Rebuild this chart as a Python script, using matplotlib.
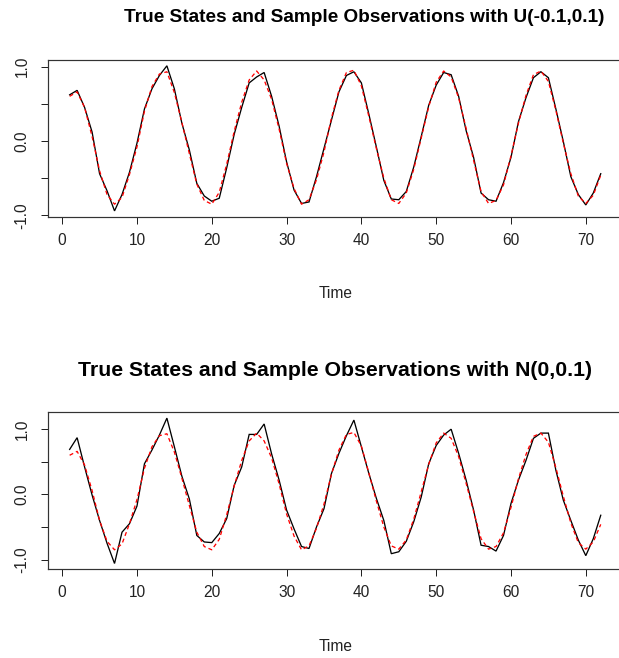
import matplotlib
matplotlib.use("Agg")
import matplotlib.pyplot as plt
import numpy as np

# ---------------- data ----------------
time = np.arange(1, 73)

true_states = [0.60, 0.66, 0.45, 0.06, -0.40, -0.72, -0.85, -0.76, -0.45, -0.08,
               0.40, 0.73, 0.90, 0.93, 0.65, 0.25, -0.17, -0.58, -0.80, -0.85,
               -0.69, -0.31, 0.13, 0.52, 0.82, 0.94, 0.82, 0.56, 0.16, -0.30,
               -0.64, -0.85, -0.79, -0.52, -0.15, 0.31, 0.68, 0.92, 0.95, 0.74,
               0.33, -0.10, -0.50, -0.79, -0.84, -0.70, -0.38, 0.04, 0.46, 0.79,
               0.94, 0.86, 0.58, 0.17, -0.26, -0.68, -0.84, -0.80, -0.59, -0.20,
               0.24, 0.61, 0.89, 0.94, 0.80, 0.41, -0.03, -0.44, -0.74, -0.84,
               -0.73, -0.46]

obs_uniform = [0.62, 0.68, 0.45, 0.12, -0.44, -0.67, -0.94, -0.72, -0.42, -0.03,
               0.43, 0.70, 0.88, 1.01, 0.70, 0.24, -0.12, -0.57, -0.74, -0.81,
               -0.77, -0.36, 0.09, 0.45, 0.78, 0.86, 0.92, 0.60, 0.20, -0.28,
               -0.66, -0.84, -0.82, -0.48, -0.10, 0.28, 0.66, 0.88, 0.93, 0.78,
               0.36, -0.08, -0.53, -0.78, -0.79, -0.68, -0.35, 0.06, 0.48, 0.75,
               0.92, 0.89, 0.60, 0.14, -0.22, -0.70, -0.79, -0.81, -0.56, -0.22,
               0.26, 0.58, 0.85, 0.93, 0.85, 0.43, -0.01, -0.48, -0.72, -0.86,
               -0.70, -0.44]

obs_normal = [0.69, 0.87, 0.42, -0.01, -0.40, -0.75, -1.06, -0.58, -0.45, -0.18,
              0.47, 0.68, 0.91, 1.17, 0.73, 0.28, -0.07, -0.63, -0.73, -0.74,
              -0.60, -0.37, 0.14, 0.42, 0.92, 0.92, 1.08, 0.62, 0.22, -0.24,
              -0.53, -0.80, -0.83, -0.50, -0.22, 0.32, 0.63, 0.90, 1.14, 0.73,
              0.32, -0.06, -0.40, -0.91, -0.88, -0.72, -0.42, -0.04, 0.47, 0.75,
              0.91, 1.00, 0.63, 0.22, -0.24, -0.78, -0.80, -0.87, -0.63, -0.14,
              0.22, 0.52, 0.86, 0.94, 0.94, 0.37, -0.09, -0.40, -0.70, -0.94,
              -0.68, -0.32]

titles = ["True States and Sample Observations with U(-0.1,0.1)",
          "True States and Sample Observations with N(0,0.1)"]
x_label = "Time"
x_ticks = [0, 10, 20, 30, 40, 50, 60, 70]
y_ticks = [-1.0, -0.5, 0.0, 0.5, 1.0]
y_tick_labels = ["-1.0", "", "0.0", "", "1.0"]

# ---------------- layout ----------------
W, H, DPI = 619, 658, 100
PT = 72.0 / DPI  # points per pixel
plt.rcParams['font.family'] = ['Liberation Sans', 'DejaVu Sans']
plt.rcParams['lines.scale_dashes'] = False

fig = plt.figure(figsize=(W / DPI, H / DPI), dpi=DPI)
fig.patch.set_facecolor('white')

def px_axes(left, top, right, bottom):
    return [left / W, 1 - bottom / H, (right - left) / W, (bottom - top) / H]

# (observations, title, box top px, box bottom px, title centre x px, title font px)
panels = [(obs_uniform, titles[0], 60.0, 216.7, 364.0, 19.0),
          (obs_normal, titles[1], 412.3, 569.3, 335.5, 21.3)]

left_px, right_px = 48.4, 622.0
label_px = 15.5

for obs, title, top, bottom, tcx, tsize in panels:
    ax = fig.add_axes(px_axes(left_px, top, right_px, bottom))
    ax.plot(time, obs, color='black', lw=1.3 * PT, solid_joinstyle='miter')
    ax.plot(time, true_states, color='red', lw=1.3 * PT,
            linestyle=(0, (4 * PT, 3 * PT)))
    lo = min(min(obs), min(true_states))
    hi = max(max(obs), max(true_states))
    pad = 0.04 * (hi - lo)
    ax.set_ylim(lo - pad, hi + pad)
    xr = time.max() - time.min()
    ax.set_xlim(time.min() - 0.04 * xr, time.max() + 0.04 * xr)
    ax.set_xticks(x_ticks)
    ax.set_xticklabels([str(v) for v in x_ticks])
    ax.set_yticks(y_ticks)
    ax.set_yticklabels(y_tick_labels, rotation=90, va='center')
    ax.tick_params(axis='both', direction='out', length=7 * PT, width=1.0 * PT,
                   labelsize=label_px * PT, colors='#222222')
    ax.tick_params(axis='x', pad=9 * PT)
    ax.tick_params(axis='y', pad=12 * PT)
    for s in ax.spines.values():
        s.set_linewidth(1.2 * PT)
        s.set_color('#333333')
    cx = (left_px + right_px) / 2
    fig.text(tcx / W, 1 - (top - 42) / H, title, ha='center', va='center',
             fontsize=tsize * PT, fontweight='bold', color='black')
    fig.text(cx / W, 1 - (bottom + 77) / H, x_label, ha='center', va='center',
             fontsize=label_px * PT, color='#222222')

fig.savefig("out.png", dpi=DPI)
